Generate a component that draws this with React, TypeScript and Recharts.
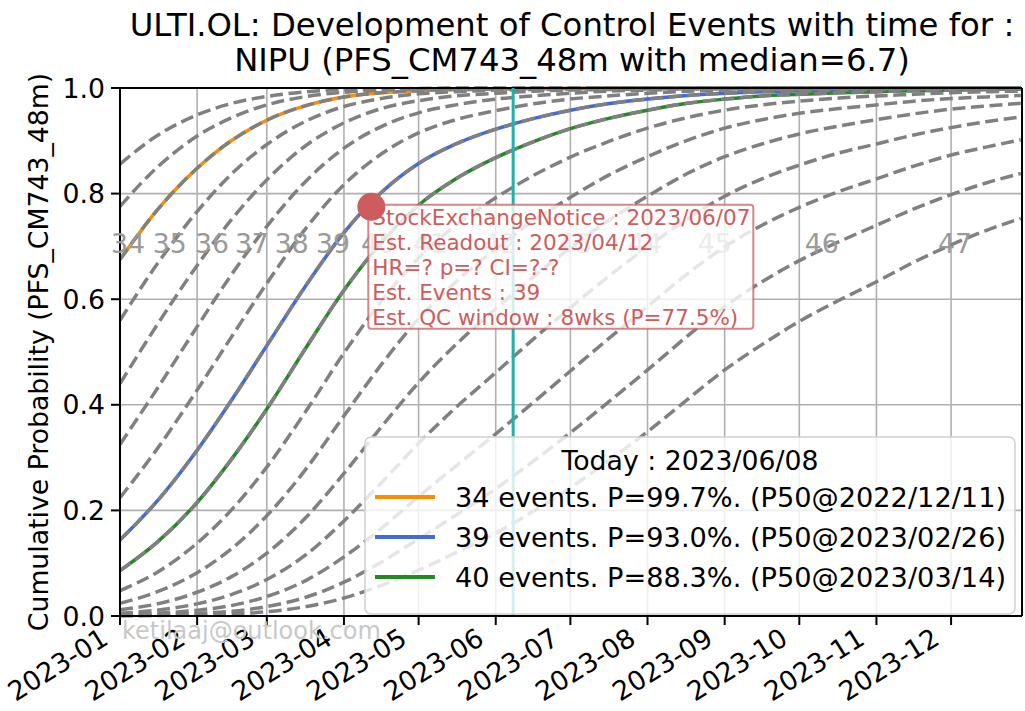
import React from "react";
import {
  LineChart,
  Line,
  XAxis,
  YAxis,
  CartesianGrid,
  ReferenceLine,
  ReferenceDot,
} from "recharts";

const FONT = "'DejaVu Sans', sans-serif";

// days since 2023-01-01
const days = [0, 15, 31, 45, 59, 75, 90, 105, 120, 135, 151, 166, 181, 196, 212, 228, 243, 258, 273, 289, 304, 319, 334, 348, 362];

const monthTicks = [0, 31, 59, 90, 120, 151, 181, 212, 243, 273, 304, 334];
const monthLabels = [
  "2023-01", "2023-02", "2023-03", "2023-04", "2023-05", "2023-06",
  "2023-07", "2023-08", "2023-09", "2023-10", "2023-11", "2023-12",
];
const yTicks = [0, 0.2, 0.4, 0.6, 0.8, 1];

// cumulative probability of reaching N events
const p32 = [0.856, 0.91, 0.949, 0.971, 0.984, 0.993, 0.997, 0.998, 0.999, 1, 1, 1, 1, 1, 1, 1, 1, 1, 1, 1, 1, 1, 1, 1, 1];
const p33 = [0.776, 0.85, 0.909, 0.944, 0.968, 0.984, 0.992, 0.996, 0.998, 0.999, 0.999, 1, 1, 1, 1, 1, 1, 1, 1, 1, 1, 1, 1, 1, 1];
const p34 = [0.675, 0.769, 0.848, 0.901, 0.939, 0.967, 0.983, 0.991, 0.995, 0.997, 0.998, 0.999, 0.999, 1, 1, 1, 1, 1, 1, 1, 1, 1, 1, 1, 1];
const p35 = [0.56, 0.667, 0.766, 0.838, 0.893, 0.938, 0.965, 0.98, 0.989, 0.993, 0.996, 0.997, 0.998, 0.999, 0.999, 1, 1, 1, 1, 1, 1, 1, 1, 1, 1];
const p36 = [0.44, 0.552, 0.664, 0.752, 0.826, 0.892, 0.934, 0.961, 0.976, 0.985, 0.99, 0.994, 0.996, 0.997, 0.998, 0.999, 0.999, 1, 1, 1, 1, 1, 1, 1, 1];
const p37 = [0.325, 0.431, 0.548, 0.648, 0.738, 0.825, 0.886, 0.927, 0.953, 0.968, 0.979, 0.985, 0.99, 0.994, 0.996, 0.998, 0.998, 0.999, 0.999, 1, 1, 1, 1, 1, 1];
const p38 = [0.224, 0.317, 0.428, 0.53, 0.63, 0.736, 0.817, 0.875, 0.915, 0.94, 0.957, 0.97, 0.979, 0.985, 0.99, 0.994, 0.996, 0.997, 0.998, 0.999, 0.999, 0.999, 1, 1, 1];
const p39 = [0.144, 0.218, 0.314, 0.41, 0.512, 0.628, 0.726, 0.802, 0.857, 0.894, 0.922, 0.942, 0.958, 0.97, 0.979, 0.986, 0.99, 0.993, 0.995, 0.996, 0.997, 0.998, 0.998, 0.999, 0.999];
const p40 = [0.086, 0.14, 0.215, 0.298, 0.392, 0.51, 0.617, 0.707, 0.778, 0.828, 0.868, 0.898, 0.923, 0.942, 0.958, 0.971, 0.979, 0.985, 0.988, 0.991, 0.993, 0.995, 0.996, 0.997, 0.998];
const p41 = [0.048, 0.083, 0.138, 0.202, 0.282, 0.39, 0.498, 0.596, 0.678, 0.74, 0.792, 0.834, 0.869, 0.898, 0.924, 0.944, 0.958, 0.968, 0.975, 0.981, 0.985, 0.988, 0.991, 0.993, 0.994];
const p42 = [0.024, 0.046, 0.082, 0.128, 0.19, 0.28, 0.379, 0.476, 0.563, 0.633, 0.695, 0.748, 0.793, 0.834, 0.87, 0.901, 0.924, 0.94, 0.952, 0.961, 0.968, 0.975, 0.98, 0.983, 0.986];
const p43 = [0.012, 0.023, 0.045, 0.075, 0.119, 0.188, 0.27, 0.358, 0.442, 0.514, 0.582, 0.642, 0.697, 0.748, 0.795, 0.838, 0.87, 0.894, 0.913, 0.928, 0.94, 0.951, 0.96, 0.966, 0.971];
const p44 = [0.005, 0.011, 0.023, 0.041, 0.069, 0.117, 0.18, 0.252, 0.327, 0.395, 0.461, 0.524, 0.584, 0.642, 0.699, 0.752, 0.795, 0.828, 0.854, 0.877, 0.894, 0.911, 0.925, 0.936, 0.945];
const p45 = [0.002, 0.005, 0.011, 0.02, 0.037, 0.068, 0.112, 0.166, 0.226, 0.284, 0.345, 0.404, 0.464, 0.524, 0.586, 0.648, 0.699, 0.74, 0.774, 0.804, 0.828, 0.852, 0.873, 0.888, 0.902];
const p46 = [0.001, 0.002, 0.005, 0.009, 0.018, 0.036, 0.064, 0.102, 0.146, 0.191, 0.241, 0.293, 0.347, 0.404, 0.466, 0.53, 0.586, 0.633, 0.673, 0.709, 0.74, 0.771, 0.798, 0.82, 0.838];
const p47 = [0.0003, 0.001, 0.002, 0.004, 0.008, 0.018, 0.034, 0.058, 0.087, 0.12, 0.157, 0.198, 0.243, 0.293, 0.349, 0.41, 0.466, 0.514, 0.558, 0.598, 0.633, 0.67, 0.703, 0.73, 0.753];

const events = [32, 33, 34, 35, 36, 37, 38, 39, 40, 41, 42, 43, 44, 45, 46, 47];
const curves = [p32, p33, p34, p35, p36, p37, p38, p39, p40, p41, p42, p43, p44, p45, p46, p47];

// inline curve labels (where each curve crosses ~0.7)
const labelEvents = [34, 35, 36, 37, 38, 39, 40, 41, 42, 43, 44, 45, 46, 47];
const labelDays = [3.2, 20, 37, 53, 69, 85.6, 103.7, 124.6, 152.7, 183, 211, 239, 282, 335.6];
const labelLevel = 0.705;

const legendEvents = [34, 39, 40];
const legendColors = ["#ff8c00", "#4169e1", "#228b22"];
const legendTexts = [
  "34 events. P=99.7%. (P50@2022/12/11)",
  "39 events. P=93.0%. (P50@2023/02/26)",
  "40 events. P=88.3%. (P50@2023/03/14)",
];
const legendTitle = "Today : 2023/06/08";

const todayDay = 158; // 2023-06-08
const readoutDay = 101; // 2023-04-12
const readoutP = 0.775;
const noteLines = [
  "StockExchangeNotice : 2023/06/07",
  "Est. Readout : 2023/04/12",
  "HR=? p=? CI=?-?",
  "Est. Events : 39",
  "Est. QC window : 8wks (P=77.5%)",
];

const xMax = 362.5;

const rows = days.map((d, i) => {
  const r: Record<string, number> = { d };
  events.forEach((n, k) => {
    r["n" + n] = curves[k][i];
  });
  return r;
});

const XTick = (props: any) => {
  const { x, y, payload } = props;
  const i = monthTicks.indexOf(payload.value);
  return (
    <g transform={`translate(${x - 10}, ${y + 18}) rotate(-32)`}>
      <text x={0} y={0} textAnchor="end" fontSize={26.7} fontFamily={FONT} fill="#000">
        {monthLabels[i]}
      </text>
    </g>
  );
};

const YTick = (props: any) => {
  const { x, y, payload } = props;
  return (
    <text
      x={x}
      y={y}
      textAnchor="end"
      dominantBaseline="central"
      fontSize={26.7}
      fontFamily={FONT}
      fill="#000"
    >
      {payload.value.toFixed(1)}
    </text>
  );
};

const NoteBox = ({ cx, cy }: any) => (
  <g>
    <rect
      x={cx - 3}
      y={cy - 2}
      width={385}
      height={124}
      rx={3}
      fill="#fff"
      fillOpacity={0.8}
      stroke="#cd5c5c"
      strokeOpacity={0.75}
      strokeWidth={2}
    />
    {noteLines.map((t, i) => (
      <text
        key={i}
        x={cx + 1}
        y={cy + 11 + i * 24.8}
        dominantBaseline="central"
        fontSize={21.5}
        fontFamily={FONT}
        fill="#cd5c5c"
      >
        {t}
      </text>
    ))}
  </g>
);

const LegendBox = ({ cx, cy }: any) => {
  const L = cx - 657;
  const T = cy - 179;
  return (
    <g>
      <rect
        x={L}
        y={T}
        width={650}
        height={177}
        rx={6}
        fill="#fff"
        fillOpacity={0.8}
        stroke="#d0d0d0"
        strokeWidth={1.5}
      />
      <text
        x={L + 325}
        y={T + 23}
        textAnchor="middle"
        dominantBaseline="central"
        fontSize={26.7}
        fontFamily={FONT}
        fill="#000"
      >
        {legendTitle}
      </text>
      {legendTexts.map((t, i) => (
        <g key={i}>
          <line
            x1={L + 10}
            x2={L + 70}
            y1={T + 60 + i * 40}
            y2={T + 60 + i * 40}
            stroke={legendColors[i]}
            strokeWidth={4}
          />
          <text
            x={L + 90}
            y={T + 60 + i * 40}
            dominantBaseline="central"
            fontSize={27.2}
            fontFamily={FONT}
            fill="#000"
          >
            {t}
          </text>
        </g>
      ))}
    </g>
  );
};

export default function App() {
  return (
    <div style={{ position: "relative", width: 1025, height: 711, fontFamily: FONT }}>
      <style>{"body{margin:0;background:#fff}"}</style>
      <LineChart
        width={1025}
        height={711}
        data={rows}
        margin={{ top: 88, right: 3, left: 0, bottom: 0 }}
      >
        <CartesianGrid stroke="#b0b0b0" strokeWidth={1.6} />
        <XAxis
          dataKey="d"
          type="number"
          domain={[0, xMax]}
          ticks={monthTicks}
          allowDataOverflow
          height={95}
          tickSize={9}
          tickMargin={0}
          tick={XTick}
          axisLine={{ stroke: "#000", strokeWidth: 2 }}
          tickLine={{ stroke: "#000", strokeWidth: 2 }}
          interval={0}
        />
        <YAxis
          type="number"
          domain={[0, 1]}
          ticks={yTicks}
          width={120}
          tickSize={9}
          tickMargin={6}
          tick={YTick}
          axisLine={{ stroke: "#000", strokeWidth: 2 }}
          tickLine={{ stroke: "#000", strokeWidth: 2 }}
          interval={0}
        />
        {legendEvents.map((n, i) => (
          <Line
            key={"c" + n}
            dataKey={"n" + n}
            type="monotone"
            stroke={legendColors[i]}
            strokeWidth={3.5}
            dot={false}
            activeDot={false}
            isAnimationActive={false}
          />
        ))}
        {events.map((n) => (
          <Line
            key={"g" + n}
            dataKey={"n" + n}
            type="monotone"
            stroke="#808080"
            strokeWidth={3.5}
            strokeDasharray="13 5.6"
            dot={false}
            activeDot={false}
            isAnimationActive={false}
          />
        ))}
        <ReferenceLine y={1} stroke="#000" strokeWidth={2} />
        <ReferenceLine x={xMax} stroke="#000" strokeWidth={2} />
        <ReferenceLine x={todayDay} stroke="#20b2aa" strokeWidth={3} />
        {labelEvents.map((n, i) => (
          <ReferenceDot
            key={"l" + n}
            x={labelDays[i]}
            y={labelLevel}
            r={1}
            shape={(p: any) => (
              <text
                x={p.cx}
                y={p.cy}
                textAnchor="middle"
                dominantBaseline="central"
                fontSize={26.7}
                fontFamily={FONT}
                fill="#9a9a9a"
              >
                {n}
              </text>
            )}
          />
        ))}
        <ReferenceDot x={readoutDay} y={readoutP} r={1} shape={(p: any) => <NoteBox {...p} />} />
        <ReferenceDot x={xMax} y={0} r={1} shape={(p: any) => <LegendBox {...p} />} />
        <ReferenceDot x={readoutDay} y={readoutP} r={14} fill="#cd5c5c" stroke="none" />
      </LineChart>
      <svg
        width={1025}
        height={711}
        style={{ position: "absolute", left: 0, top: 0, pointerEvents: "none" }}
      >
        <text x={572} y={36} textAnchor="middle" fontSize={32.3} fontFamily={FONT} fill="#000">
          ULTI.OL: Development of Control Events with time for :
        </text>
        <text x={572} y={71} textAnchor="middle" fontSize={32.3} fontFamily={FONT} fill="#000">
          NIPU (PFS_CM743_48m with median=6.7)
        </text>
        <text
          x={38}
          y={352}
          transform="rotate(-90, 38, 352)"
          textAnchor="middle"
          dominantBaseline="central"
          fontSize={26.7}
          fontFamily={FONT}
          fill="#000"
        >
          Cumulative Probability (PFS_CM743_48m)
        </text>
        <text x={122} y={639} fontSize={24} fontFamily={FONT} fill="#c8c8c8">
          ketilaaj@outlook.com
        </text>
      </svg>
    </div>
  );
}
